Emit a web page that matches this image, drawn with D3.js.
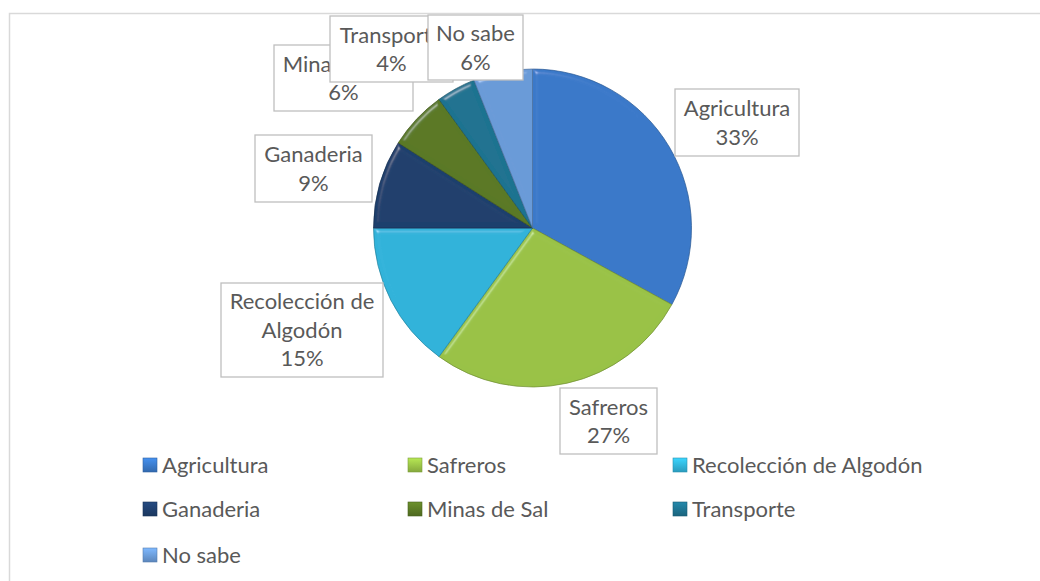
<!DOCTYPE html>
<html><head><meta charset="utf-8">
<script src="https://cdn.jsdelivr.net/npm/d3@7"></script>
<style>
html,body{margin:0;padding:0;background:#fff;}
svg{display:block;font-family:Lato, "Liberation Sans", sans-serif;}
</style></head>
<body>
<svg id="chart" width="1040" height="581"></svg>
<script>
// ---- data ----
const categories = ["Agricultura","Safreros","Recolección de Algodón","Ganaderia","Minas de Sal","Transporte","No sabe"];
const values = [33, 27, 15, 9, 6, 4, 6];
const colors = ["#3a79c9","#99c246","#31b3da","#1f3f6d","#5a7925","#1e7390","#6a9bd8"];

// ---- layout (label boxes, relative to pie centre) ----
const labelBoxes = [
  {dx: 204.5, dy:-105.5, w:124, h:67},
  {dx:  76,   dy: 193,   w: 97, h:66},
  {dx:-230.5, dy: 102,   w:162, h:94},
  {dx:-219,   dy: -59.5, w:117, h:67},
  {dx:-189,   dy:-150,   w:139, h:66},
  {dx:-141,   dy:-179,   w:123, h:66},
  {dx: -57,   dy:-180.5, w: 95, h:65}
];

const W = 1040, H = 581;
const cx = 532.5, cy = 228, R = 159;
const svg = d3.select("#chart");

// chart frame
svg.append("rect").attr("x",9.5).attr("y",13.5).attr("width",1100).attr("height",700)
  .attr("fill","#fff").attr("stroke","#d9d9d9").attr("stroke-width",1.5);

const defs = svg.append("defs");
const f = defs.append("filter").attr("id","bevel").attr("x","-10%").attr("y","-10%").attr("width","120%").attr("height","120%");
f.append("feGaussianBlur").attr("in","SourceAlpha").attr("stdDeviation",2.5).attr("result","blur");
const spec = f.append("feSpecularLighting").attr("in","blur").attr("surfaceScale",4)
  .attr("specularConstant",0.6).attr("specularExponent",40).attr("lighting-color","#ffffff").attr("result","spec");
spec.append("feDistantLight").attr("azimuth",235).attr("elevation",35);
f.append("feComposite").attr("in","spec").attr("in2","SourceAlpha").attr("operator","in").attr("result","specOut");
f.append("feComposite").attr("in","SourceGraphic").attr("in2","specOut").attr("operator","arithmetic")
  .attr("k1",0).attr("k2",1).attr("k3",0.45).attr("k4",0);

colors.forEach((c,i)=>{
  const lg = defs.append("linearGradient").attr("id","lg"+i).attr("x1",0).attr("y1",0).attr("x2",0).attr("y2",1);
  lg.append("stop").attr("offset","0%").attr("stop-color",d3.color(c).brighter(0.5));
  lg.append("stop").attr("offset","100%").attr("stop-color",d3.color(c).darker(0.4));
});

const total = d3.sum(values);
const data = categories.map((c,i)=>({name:c, value:values[i], i}));
const pie = d3.pie().sort(null).value(d=>d.value);
const arc = d3.arc().innerRadius(0).outerRadius(R);

const pg = svg.append("g").attr("transform",`translate(${cx},${cy})`);
pg.selectAll("path.slice").data(pie(data)).join("path")
  .attr("class","slice")
  .attr("d",arc)
  .attr("fill",d=>colors[d.data.i])
  .attr("stroke",d=>d3.color(colors[d.data.i]).darker(0.9))
  .attr("stroke-width",0.7)
  .attr("filter","url(#bevel)");

// data labels
const fontSize = 22, lineH = 28.5;
function wrap(text, maxW){
  const words = text.split(" ");
  const lines=[]; let cur="";
  const tmp = svg.append("text").attr("font-size",fontSize);
  words.forEach(w=>{
    const t = cur? cur+" "+w : w;
    tmp.text(t);
    if(tmp.node().getComputedTextLength()>maxW && cur){lines.push(cur); cur=w;} else cur=t;
  });
  lines.push(cur); tmp.remove();
  return lines;
}
const lg = svg.append("g");
pie(data).forEach(d=>{
  const b = labelBoxes[d.data.i];
  const bx = cx + b.dx, by = cy + b.dy;
  const g = lg.append("g");
  g.append("rect").attr("x",bx-b.w/2).attr("y",by-b.h/2).attr("width",b.w).attr("height",b.h)
    .attr("fill","#fff").attr("stroke","#bfbfbf").attr("stroke-width",1.3);
  const lines = wrap(d.data.name, 158);
  lines.push(Math.round(d.data.value/total*100)+"%");
  const y0 = by - (lines.length-1)*lineH/2;
  lines.forEach((l,k)=>{
    g.append("text").attr("x",bx).attr("y",y0+k*lineH).attr("dy","0.36em")
      .attr("text-anchor","middle").attr("font-size",fontSize).attr("fill","#595959").text(l);
  });
});

// legend
const legX = [143, 408, 673], legY = [465, 509, 555];
const leg = svg.append("g");
data.forEach((d,i)=>{
  const col = i%3, row = Math.floor(i/3);
  const x = legX[col], y = legY[row];
  leg.append("rect").attr("x",x).attr("y",y-7).attr("width",14).attr("height",14)
    .attr("fill",`url(#lg${i})`).attr("stroke",d3.color(colors[i]).darker(0.6)).attr("stroke-width",0.6);
  leg.append("text").attr("x",x+19).attr("y",y).attr("dy","0.36em")
    .attr("font-size",fontSize).attr("fill","#595959").text(d.name);
});
</script>
</body></html>
